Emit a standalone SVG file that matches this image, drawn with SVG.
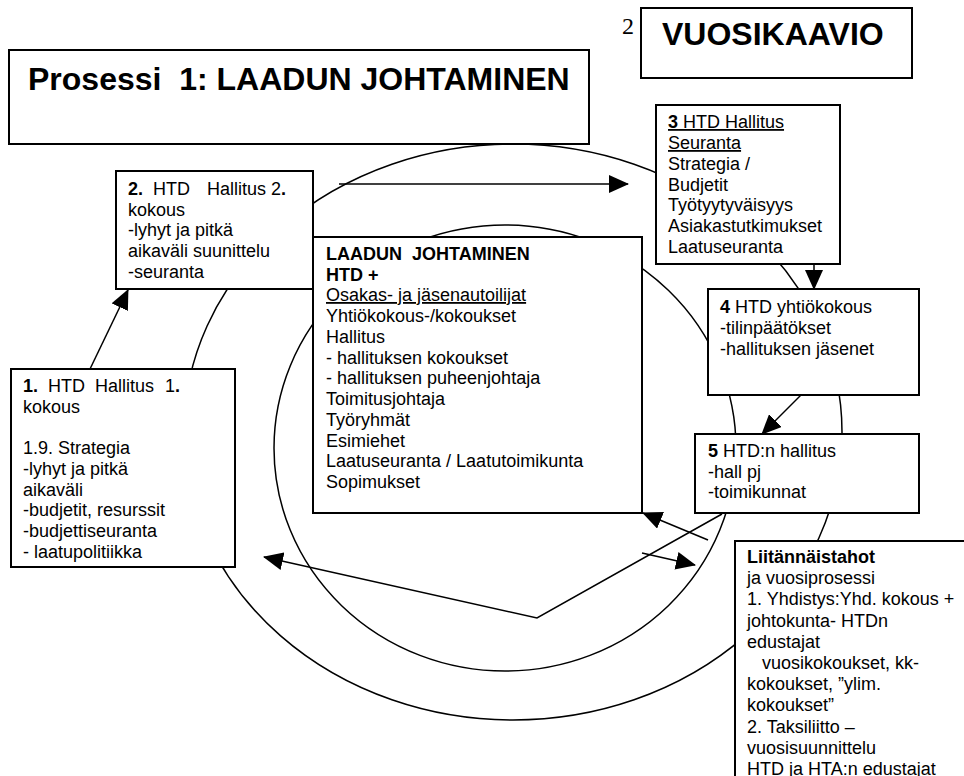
<svg xmlns="http://www.w3.org/2000/svg" width="964" height="776" viewBox="0 0 964 776">
<defs>
<style>
.box{fill:#fff;stroke:#000;stroke-width:2}
.ring{fill:none;stroke:#000;stroke-width:1.5}
.link{fill:none;stroke:#000;stroke-width:1.5}
text{font-family:"Liberation Sans",Arial,sans-serif;font-size:18px;fill:#000}
.b{font-weight:bold}
.u{text-decoration:underline}
.big{font-size:32px;font-weight:bold}
.num{font-family:"Liberation Serif","Times New Roman",serif;font-size:24px}
</style>
<marker id="arr" markerUnits="userSpaceOnUse" markerWidth="20" markerHeight="18" viewBox="0 0 20 18" refX="19" refY="9" orient="auto">
<path d="M0,0 L20,9 L0,18 z" fill="#000"/>
</marker>
</defs>
<rect width="964" height="776" fill="#fff"/>

<!-- yearly cycle rings -->
<g id="rings">
<ellipse class="ring" cx="513" cy="432" rx="329" ry="288"/>
<ellipse class="ring" cx="505" cy="448" rx="231" ry="223"/>
</g>

<g id="title">
<rect class="box" x="9" y="50" width="580" height="94"/>
<text class="big" x="28" y="90" xml:space="preserve">Prosessi  1: LAADUN JOHTAMINEN</text>
</g>

<g id="vuosikaavio">
<text class="num" x="622" y="34">2</text>
<rect class="box" x="641" y="8" width="271" height="70"/>
<text class="big" x="662" y="45">VUOSIKAAVIO</text>
</g>

<g id="step3">
<rect class="box" x="656" y="105" width="184" height="159"/>
<text x="668" y="128" class="u"><tspan class="b">3</tspan> HTD Hallitus</text>
<text x="668" y="149" class="u">Seuranta</text>
<text x="668" y="170">Strategia /</text>
<text x="668" y="191">Budjetit</text>
<text x="668" y="211">Työtyytyväisyys</text>
<text x="668" y="232">Asiakastutkimukset</text>
<text x="668" y="253">Laatuseuranta</text>
</g>

<g id="step4">
<rect class="box" x="708" y="289" width="211" height="106"/>
<text x="720" y="313"><tspan class="b">4</tspan> HTD yhtiökokous</text>
<text x="720" y="334">-tilinpäätökset</text>
<text x="720" y="355">-hallituksen jäsenet</text>
</g>

<g id="step5">
<rect class="box" x="695" y="434" width="224" height="79"/>
<text x="708" y="457"><tspan class="b">5</tspan> HTD:n hallitus</text>
<text x="708" y="478">-hall pj</text>
<text x="708" y="498">-toimikunnat</text>
</g>

<g id="core">
<rect class="box" x="313" y="237" width="329" height="276"/>
<text x="326" y="260" class="b" xml:space="preserve">LAADUN  JOHTAMINEN</text>
<text x="326" y="281" class="b">HTD +</text>
<text x="326" y="301" class="u">Osakas- ja jäsenautoilijat</text>
<text x="326" y="322">Yhtiökokous-/kokoukset</text>
<text x="326" y="343">Hallitus</text>
<text x="326" y="364">- hallituksen kokoukset</text>
<text x="326" y="384">- hallituksen puheenjohtaja</text>
<text x="326" y="405">Toimitusjohtaja</text>
<text x="326" y="426">Työryhmät</text>
<text x="326" y="447">Esimiehet</text>
<text x="326" y="467">Laatuseuranta / Laatutoimikunta</text>
<text x="326" y="488">Sopimukset</text>
</g>

<g id="step2">
<rect class="box" x="116" y="171" width="197" height="118"/>
<text y="195"><tspan x="128" class="b">2.</tspan><tspan x="153">HTD</tspan><tspan x="207">Hallitus 2</tspan><tspan class="b">.</tspan></text>
<text x="128" y="216">kokous</text>
<text x="128" y="236">-lyhyt ja pitkä</text>
<text x="128" y="257">aikaväli suunittelu</text>
<text x="128" y="278">-seuranta</text>
</g>

<g id="step1">
<rect class="box" x="11" y="369" width="224" height="198"/>
<text y="392"><tspan x="23" class="b">1.</tspan><tspan x="48">HTD</tspan><tspan x="95">Hallitus</tspan><tspan x="165">1</tspan><tspan class="b">.</tspan></text>
<text x="23" y="413">kokous</text>
<text x="23" y="454">1.9. Strategia</text>
<text x="23" y="475">-lyhyt ja pitkä</text>
<text x="23" y="496">aikaväli</text>
<text x="23" y="516">-budjetit, resurssit</text>
<text x="23" y="537">-budjettiseuranta</text>
<text x="23" y="558">- laatupolitiikka</text>
</g>

<g id="partners">
<rect class="box" x="735" y="541" width="250" height="250"/>
<text x="747" y="563" class="b">Liitännäistahot</text>
<text x="747" y="584">ja vuosiprosessi</text>
<text x="747" y="605">1. Yhdistys:Yhd. kokous +</text>
<text x="747" y="627">johtokunta- HTDn</text>
<text x="747" y="648">edustajat</text>
<text x="747" y="669" xml:space="preserve">   vuosikokoukset, kk-</text>
<text x="747" y="690">kokoukset, ”ylim.</text>
<text x="747" y="711">kokoukset”</text>
<text x="747" y="733">2. Taksiliitto –</text>
<text x="747" y="754">vuosisuunnittelu</text>
<text x="747" y="775">HTD ja HTA:n edustajat</text>
</g>

<g id="connectors">
<line class="link" x1="90" y1="369" x2="128" y2="290" marker-end="url(#arr)"/>
<line class="link" x1="339" y1="184" x2="628" y2="184" marker-end="url(#arr)"/>
<line class="link" x1="814" y1="264" x2="814" y2="289" marker-end="url(#arr)"/>
<line class="link" x1="801" y1="395" x2="762" y2="434" marker-end="url(#arr)"/>
<line class="link" x1="708" y1="540" x2="643" y2="513" marker-end="url(#arr)"/>
<line class="link" x1="642" y1="553" x2="695" y2="565" marker-end="url(#arr)"/>
<polyline class="link" points="722,514 537,618 264,557" marker-end="url(#arr)"/>
</g>
</svg>
